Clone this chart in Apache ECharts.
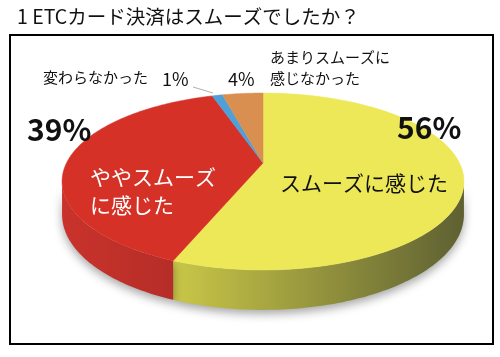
<!DOCTYPE html>
<html><head><meta charset="utf-8">
<script src="https://cdn.jsdelivr.net/npm/echarts@6/dist/echarts.min.js"></script>
<style>html,body{margin:0;padding:0;background:#fff}#c{width:500px;height:357px}</style>
</head><body><div id="c"></div>
<script>
// ---- data ----
const chartTitle = '1 ETCカード決済はスムーズでしたか？';
const categories = ['スムーズに感じた', 'ややスムーズ\nに感じた', '変わらなかった', 'あまりスムーズに\n感じなかった'];
const values = [56, 39, 1, 4];
const topColors = ['#ece858', '#d53127', '#4da0d9', '#d98f50'];
const wallStops = [
  [['#dcd84e', 0], ['#c6c447', 0.3], ['#5c5e32', 1]],
  [['#c9332b', 0], ['#b42d28', 0.3], ['#7a1f1c', 1]],
  [['#3d86bb', 0], ['#2b6a99', 1]],
  [['#c07a40', 0], ['#8e5a2c', 1]]
];

// ---- geometry of the tilted pie ----
const CX = 263, CY = 163, A = 196.5, B = 84.6, K = 0.209, HD = 31.6;
const total = values.reduce((a, b) => a + b, 0);

function proj(deg, drop) {
  const p = deg * Math.PI / 180;
  const u = Math.sin(p), v = -Math.cos(p);
  const s = 1 / (1 - K * v);
  return [CX + A * u * s, CY + (B * v + drop) * s];
}

function arc(a0, a1, drop) {
  const pts = [];
  const n = Math.max(2, Math.ceil(Math.abs(a1 - a0) / 1));
  for (let i = 0; i <= n; i++) pts.push(proj(a0 + (a1 - a0) * i / n, drop));
  return pts;
}

const frontFrom = Math.acos(-K) * 180 / Math.PI;
const frontTo = 360 - frontFrom;

function renderItem(params, api) {
  const i = params.dataIndex;
  let start = 0;
  for (let j = 0; j < i; j++) start += values[j];
  const a0 = start / total * 360;
  const a1 = (start + api.value(0)) / total * 360;
  const children = [];
  const w0 = Math.max(a0, frontFrom), w1 = Math.min(a1, frontTo);
  if (w1 > w0) {
    const pts = arc(w0, w1, 0).concat(arc(w1, w0, HD));
    children.push({
      type: 'polygon', z2: 1,
      shape: { points: pts },
      style: {
        fill: new echarts.graphic.LinearGradient(60, 0, 470, 0,
          wallStops[i].map(s => ({ offset: s[1], color: s[0] })), true),
        shadowBlur: 10, shadowColor: 'rgba(0,0,0,0.35)', shadowOffsetY: 4
      }
    });
  }
  children.push({
    type: 'polygon', z2: 10,
    shape: { points: [[CX, CY]].concat(arc(a0, a1, 0)) },
    style: { fill: api.visual('color'), stroke: api.visual('color'), lineWidth: 0.5 }
  });
  return { type: 'group', children };
}

const jp = '"Noto Sans CJK JP", "Noto Sans", sans-serif';
function txt(text, x, y, size, opts) {
  return {
    type: 'text', z: 50,
    style: Object.assign({
      text, x, y, fontSize: size, fontFamily: jp, fill: '#111',
      textAlign: 'left', textVerticalAlign: 'middle'
    }, opts || {})
  };
}

const chart = echarts.init(document.getElementById('c'), null, { renderer: 'canvas' });
chart.setOption({
  animation: false,
  backgroundColor: '#fff',
  series: [{
    type: 'custom',
    coordinateSystem: 'none',
    renderItem,
    data: values.map((v, i) => ({ value: v, name: categories[i], itemStyle: { color: topColors[i] } }))
  }],
  graphic: [
    { type: 'rect', z: 40, shape: { x: 10, y: 35, width: 483, height: 309 }, style: { fill: 'none', stroke: '#000', lineWidth: 2 } },
    txt(chartTitle, 17, 17, 19.5),
    txt(categories[3], 270, 47, 15, { textVerticalAlign: 'top', lineHeight: 21 }),
    txt(values[3] + '%', 228, 79, 18),
    txt(categories[2], 43, 77, 15),
    txt(values[2] + '%', 162, 79, 18),
    { type: 'line', z: 45, shape: { x1: 193, y1: 87, x2: 213, y2: 93 }, style: { stroke: '#b0b0b0', lineWidth: 1 } },
    txt(values[1] + '%', 27, 130, 30, { fontWeight: 'bold' }),
    txt(values[0] + '%', 397, 128, 30, { fontWeight: 'bold' }),
    txt(categories[1], 90, 163, 21, { textVerticalAlign: 'top', lineHeight: 28, fill: '#fff' }),
    txt(categories[0], 280, 183, 21)
  ]
});
</script>
</body></html>
